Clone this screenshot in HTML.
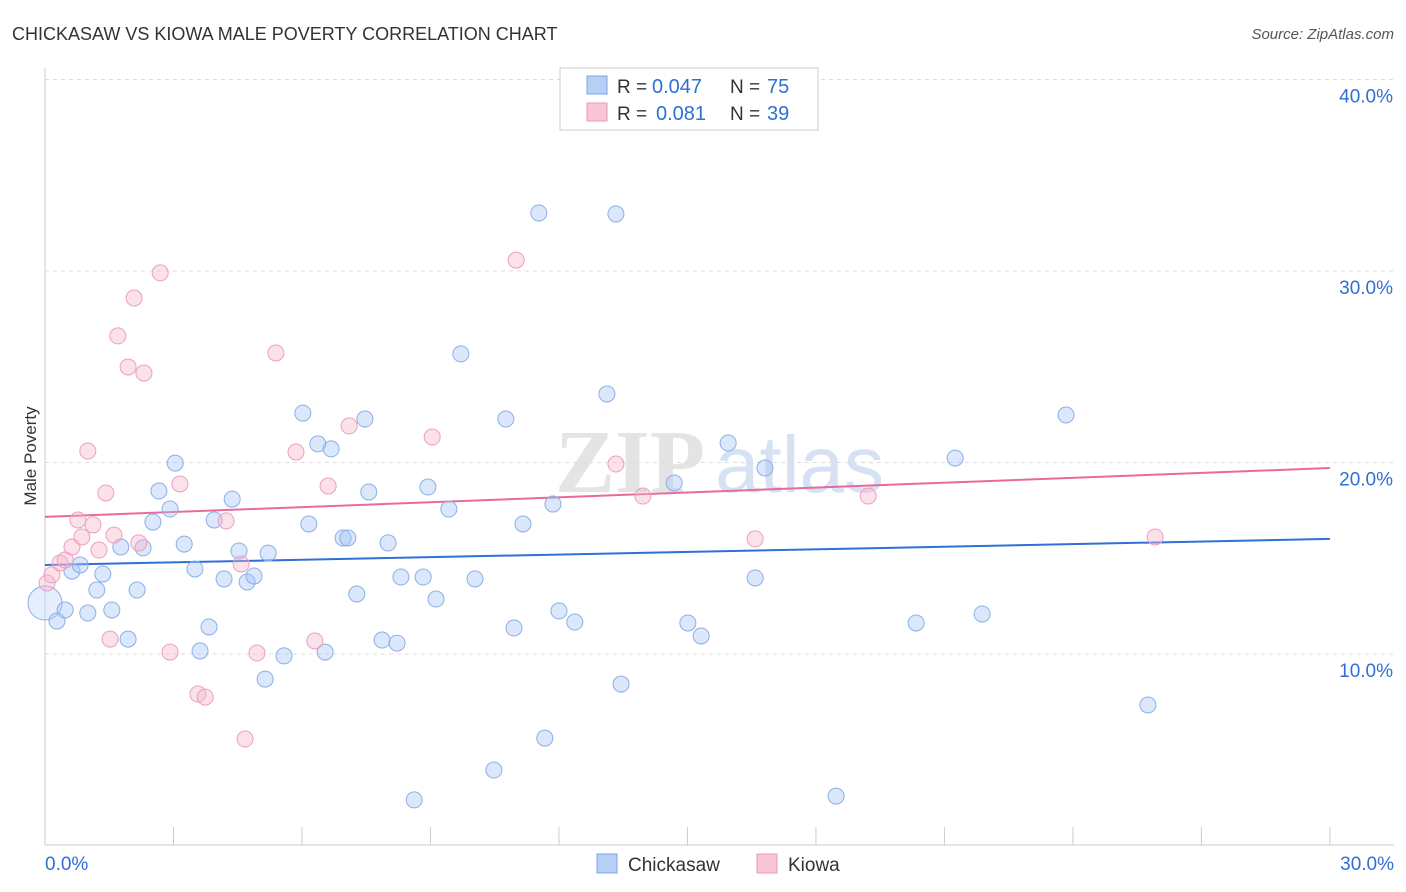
<!DOCTYPE html>
<html><head><meta charset="utf-8"><style>
body{margin:0;background:#fff;font-family:"Liberation Sans",sans-serif;}
svg{display:block}
</style></head><body>
<svg width="1406" height="892" id="chart">
<text x="12" y="40" font-size="18" fill="#333">CHICKASAW VS KIOWA MALE POVERTY CORRELATION CHART</text>
<text x="1394" y="39" font-size="15" fill="#555" text-anchor="end" font-style="italic">Source: ZipAtlas.com</text>
<text x="36" y="456" font-size="17" fill="#333" text-anchor="middle" transform="rotate(-90 36 456)">Male Poverty</text>
<g><text x="555" y="492" font-size="90" fill="#e4e4e4" font-family="Liberation Serif,serif" font-weight="bold">ZIP</text><text x="715" y="492" font-size="80" fill="#d6e2f3">atlas</text></g>
<g id="grid"></g>
<g id="axes"></g>
<g id="lines"></g>
<g id="pts"></g>
<g>
<rect x="560" y="68" width="258" height="62" fill="#fff" stroke="#ccc"/>
<rect x="587" y="76" width="20" height="18" fill="#b7cff5" stroke="#7ea6e3"/>
<rect x="587" y="103" width="20" height="18" fill="#f8c6d6" stroke="#ec9ab7"/>
<text x="617" y="93" font-size="19" fill="#333">R =</text>
<text x="652" y="93" font-size="20" fill="#2f6fd6">0.047</text>
<text x="730" y="93" font-size="19" fill="#333">N =</text>
<text x="767" y="93" font-size="20" fill="#2f6fd6">75</text>
<text x="617" y="120" font-size="19" fill="#333">R =</text>
<text x="656" y="120" font-size="20" fill="#2f6fd6">0.081</text>
<text x="730" y="120" font-size="19" fill="#333">N =</text>
<text x="767" y="120" font-size="20" fill="#2f6fd6">39</text>
</g>
<g>
<rect x="597" y="854" width="20" height="19" fill="#b7cff5" stroke="#7ea6e3"/>
<text x="628" y="871" font-size="19" fill="#333">Chickasaw</text>
<rect x="757" y="854" width="20" height="19" fill="#f8c6d6" stroke="#ec9ab7"/>
<text x="788" y="871" font-size="19" fill="#333">Kiowa</text>
</g>
</svg>
<script>
const blueX=[0.0,0.28,0.47,0.63,0.82,1.0,1.21,1.35,1.56,1.77,1.94,2.15,2.29,2.52,2.66,2.92,3.04,3.25,3.5,3.62,3.83,3.95,4.18,4.37,4.53,4.72,4.88,5.14,5.21,5.58,6.02,6.16,6.37,6.54,6.68,6.96,7.07,7.28,7.47,7.56,7.87,8.01,8.22,8.31,8.62,8.83,8.94,9.13,9.43,9.71,10.04,10.48,10.76,10.95,11.16,11.53,11.67,11.86,12.0,12.37,13.12,13.33,13.45,14.69,15.01,15.32,15.95,16.58,16.81,18.47,20.34,21.25,21.88,23.84,25.75];
const blueY=[12.66,11.72,12.3,14.33,14.65,12.14,13.34,14.18,12.3,15.59,10.78,13.34,15.54,16.89,18.51,17.57,19.97,15.74,14.44,10.16,11.41,17.0,13.92,18.09,15.38,13.76,14.07,8.69,15.27,9.9,22.58,16.79,20.97,10.1,20.71,16.06,16.06,13.13,22.27,18.46,10.73,15.8,10.57,14.02,2.38,14.02,18.72,12.87,17.57,25.67,13.92,3.94,22.27,11.36,16.79,33.03,5.61,17.83,12.25,11.67,23.58,32.98,8.43,18.93,11.62,10.94,21.02,13.97,19.71,2.58,11.62,20.23,12.09,22.48,7.34];
const pinkX=[0.05,0.16,0.35,0.47,0.63,0.77,0.86,1.0,1.12,1.26,1.42,1.52,1.61,1.7,1.94,2.08,2.19,2.31,2.69,2.92,3.15,3.57,3.74,4.23,4.58,4.67,4.95,5.39,5.86,6.3,6.61,7.1,9.04,11.0,13.33,13.96,16.58,19.22,25.92];
const pinkY=[13.71,14.13,14.75,14.91,15.59,17.0,16.11,20.6,16.74,15.43,18.41,10.78,16.21,26.61,24.99,28.59,15.8,24.67,29.9,10.1,18.88,7.91,7.75,16.95,14.7,5.56,10.05,25.72,20.55,10.68,18.77,21.91,21.33,30.57,19.92,18.25,16.01,18.25,16.11];
const blueTrend=[14.65,16.01];
const pinkTrend=[17.16,19.71];
const yTicks=[10,20,30,40];
const xTickLabels=["0.0%","30.0%"];
const NS="http://www.w3.org/2000/svg";
const X=v=>45+v*42.83, Y=v=>845.5-v*19.15;
function mk(tag,attrs,parent){const e=document.createElementNS(NS,tag);for(const k in attrs)e.setAttribute(k,attrs[k]);document.getElementById(parent).appendChild(e);return e;}
yTicks.forEach(t=>{
  const l=mk('line',{x1:45,x2:1394,y1:Y(t),y2:Y(t),stroke:'#ddd','stroke-dasharray':'4,4'},'grid');
  
  
  const tx=mk('text',{x:1393,y:Y(t)+23,'font-size':19,fill:'#2f6fd6','text-anchor':'end'},'grid');
  tx.textContent=t.toFixed(1)+'%';
  
  
});
mk('line',{x1:45,x2:45,y1:68,y2:845,stroke:'#ccc'},'axes');
mk('line',{x1:45,x2:1394,y1:845,y2:845,stroke:'#ccc'},'axes');
for(let i=0;i<=10;i++){const t=mk('line',{x1:X(i*3),x2:X(i*3),y1:827,y2:845,stroke:'#ccc'},'axes');
  
  }
const xl0=mk('text',{x:45,y:870,'font-size':19,fill:'#2f6fd6'},'axes');xl0.textContent=xTickLabels[0];


const xl1=mk('text',{x:1394,y:870,'font-size':19,fill:'#2f6fd6','text-anchor':'end'},'axes');xl1.textContent=xTickLabels[1];


function pts(xs,ys,fill,stroke,name){xs.forEach((x,i)=>{const big=i==0&&name=='chickasaw-point';const c=mk('circle',{cx:X(x),cy:Y(ys[i]),r:big?17:8,fill:big?'rgba(180,205,245,0.35)':fill,stroke:stroke,'stroke-width':1},'pts');
  
  });}
pts(blueX,blueY,'rgba(165,195,242,0.4)','#8ab0e8','chickasaw-point');
pts(pinkX,pinkY,'rgba(246,180,202,0.4)','#ef9fbb','kiowa-point');
const bl=mk('line',{x1:X(0),x2:X(30),y1:Y(blueTrend[0]),y2:Y(blueTrend[1]),stroke:'#2f6fd6','stroke-width':2},'lines');


const pl=mk('line',{x1:X(0),x2:X(30),y1:Y(pinkTrend[0]),y2:Y(pinkTrend[1]),stroke:'#e86a9a','stroke-width':2},'lines');


</script>
</body></html>
